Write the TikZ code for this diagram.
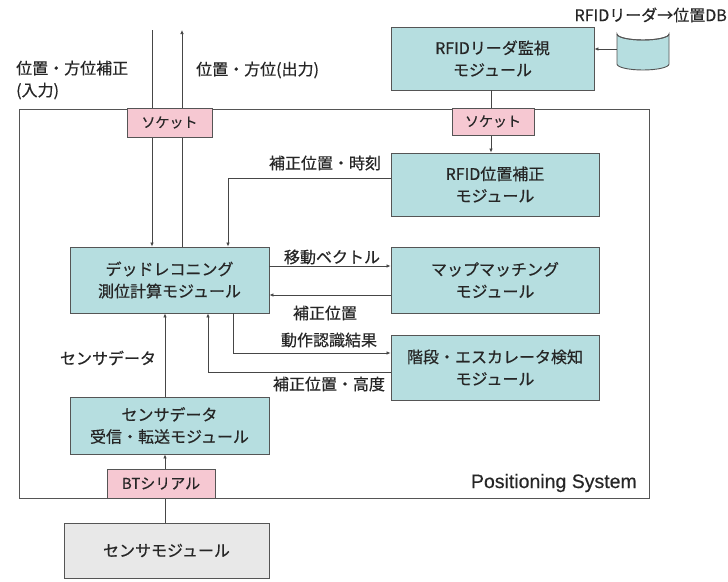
\documentclass[tikz,border=0pt]{standalone}
\usepackage{fontspec}
\setmainfont{Noto Sans CJK JP}[FakeBold=0.5]
\newfontfamily\latinsans{Liberation Sans}[FakeBold=0.4]
\usetikzlibrary{arrows.meta}
\definecolor{modfill}{RGB}{182,222,224}
\definecolor{sockfill}{RGB}{246,200,210}
\definecolor{grayfill}{RGB}{232,232,232}
\definecolor{edge}{RGB}{85,85,85}
\definecolor{wire}{RGB}{70,70,70}
\begin{document}
\begin{tikzpicture}[x=1pt,y=-1pt,
  box/.style={draw=edge, line width=0.9pt, align=center, inner sep=0pt,
    font=\fontsize{16}{22}\selectfont, text=black!85},
  mod/.style={box, fill=modfill},
  sock/.style={box, fill=sockfill, font=\fontsize{14}{18}\selectfont},
  lbl/.style={inner sep=0pt, font=\fontsize{16}{22}\selectfont, text=black!85},
  arr/.style={draw=wire, line width=0.7pt, -{Latex[length=4pt,width=3.5pt]}},
  ln/.style={draw=wire, line width=0.7pt}]
\useasboundingbox (0,0) rectangle (728,581);
\fill[white] (0,0) rectangle (728,581);

% system frame
\draw[draw=edge, line width=0.9pt] (19,109) rectangle (649,498);
\node[lbl, anchor=east, font=\latinsans\fontsize{19.5}{22}\selectfont] (sysname) at (637,483) {Positioning System};

% modules
\node[mod, minimum width=203pt, minimum height=63pt] (rfidmon) at (492.5,58.5) {RFIDリーダ監視\\モジュール};
\node[mod, minimum width=208pt, minimum height=63pt] (rfidpos) at (495,184.5) {RFID位置補正\\モジュール};
\node[mod, minimum width=208pt, minimum height=66pt] (map) at (495,280) {マップマッチング\\モジュール};
\node[mod, minimum width=208pt, minimum height=65pt] (stairs) at (495,367.5) {階段・エスカレータ検知\\モジュール};
\node[mod, minimum width=199pt, minimum height=66pt] (dr) at (169.5,280) {デッドレコニング\\測位計算モジュール};
\node[mod, minimum width=199pt, minimum height=57pt] (sdata) at (169.5,425.5) {センサデータ\\受信・転送モジュール};
\node[box, fill=grayfill, minimum width=205pt, minimum height=55pt] (sensor) at (166.5,550.5) {センサモジュール};

% database cylinder
\node[inner sep=0pt, minimum width=52pt, minimum height=42pt] (db) at (643,49) {};
\filldraw[fill=modfill, draw=edge, line width=0.9pt]
  (617,34) -- (617,64) arc[start angle=180, end angle=0, x radius=26, y radius=6] -- (669,34)
  arc[start angle=0, end angle=180, x radius=26, y radius=6] -- cycle;
\draw[draw=edge, line width=0.9pt] (617,34) arc[start angle=180, end angle=0, x radius=26, y radius=6];
\node[lbl, anchor=east, font=\fontsize{16}{18}\selectfont] (dblbl) at (727,15) {RFIDリーダ→位置DB};

% free ends
\coordinate (inTop) at (152,30);
\coordinate (outTop) at (182,30);

% connectors
\draw[arr] (inTop) -- (inTop |- dr.north);
\draw[arr] (outTop |- dr.north) -- (outTop);
\draw[arr] (db.west) -- (db.west -| rfidmon.east);
\draw[arr] ([xshift=-1.5pt]rfidmon.south) -- ([xshift=-1.5pt]rfidmon.south |- rfidpos.north);
\draw[arr] ([yshift=6.5pt]rfidpos.west) -| ([xshift=58.5pt]dr.north);
\draw[arr] ([yshift=14pt]dr.east) -- ([yshift=14pt]dr.east -| map.west);
\draw[arr] ([yshift=-15pt]map.west) -- ([yshift=-15pt]map.west -| dr.east);
\draw[arr] ([xshift=63.5pt]dr.south) |- ([yshift=14.5pt]stairs.west);
\draw[arr] ([yshift=-4.5pt]stairs.west) -| ([xshift=38.5pt]dr.south);
\draw[arr] ([xshift=-4.5pt]sdata.north) -- ([xshift=-4.5pt]sdata.north |- dr.south);
\draw[arr] ([xshift=-1.5pt]sensor.north) -- ([xshift=-1.5pt]sensor.north |- sdata.south);

% sockets (drawn over the lines)
\node[sock, minimum width=85pt, minimum height=29pt] (sock1) at (169.5,122.5) {ソケット};
\node[sock, minimum width=82pt, minimum height=27pt] (sock2) at (493,121.5) {ソケット};
\node[sock, minimum width=108pt, minimum height=29pt, font=\fontsize{15}{18}\selectfont] (bt) at (161,483.5) {BTシリアル};

% connector labels
\node[lbl, anchor=west, align=left] (inlbl) at (16,80) {位置・方位補正\\(入力)};
\node[lbl, anchor=west] (outlbl) at (196,70) {位置・方位(出力)};
\node[lbl] (l1) at (325,163) {補正位置・時刻};
\node[lbl] (l2) at (332,257) {移動ベクトル};
\node[lbl] (l3) at (325,313) {補正位置};
\node[lbl] (l4) at (329,340) {動作認識結果};
\node[lbl] (l5) at (329,384) {補正位置・高度};
\node[lbl] (l6) at (108,358) {センサデータ};
\end{tikzpicture}
\end{document}
